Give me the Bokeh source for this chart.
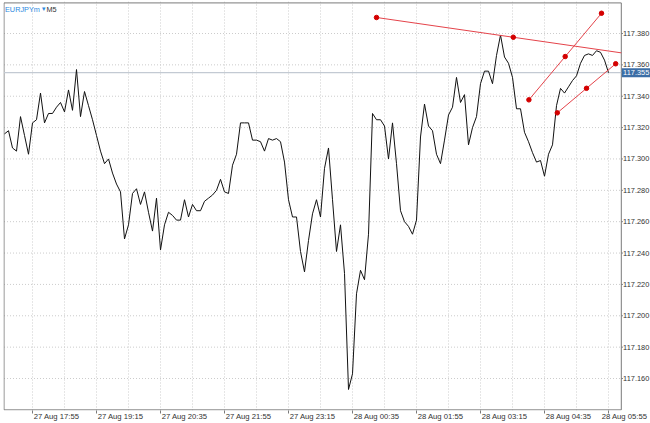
from bokeh.plotting import figure
from bokeh.models import Range1d, FixedTicker, Label
from bokeh.core.properties import value
from bokeh.embed import file_html
from bokeh.resources import INLINE

# ---- data -------------------------------------------------------------
# EURJPYm, M5 closes, one value per 5-minute bar from 27 Aug 17:20 to 28 Aug 05:55
close = [
    117.316, 117.318, 117.307, 117.305, 117.327, 117.315, 117.303, 117.323, 117.325, 117.342,
    117.323, 117.329, 117.329, 117.333, 117.336, 117.330, 117.344, 117.331, 117.357, 117.327,
    117.343, 117.334, 117.325, 117.315, 117.305, 117.297, 117.300, 117.291, 117.284, 117.279,
    117.249, 117.258, 117.278, 117.281, 117.271, 117.279, 117.266, 117.254, 117.275, 117.242,
    117.258, 117.266, 117.264, 117.261, 117.261, 117.274, 117.263, 117.271, 117.267, 117.267,
    117.273, 117.275, 117.277, 117.280, 117.287, 117.279, 117.278, 117.296, 117.303, 117.323,
    117.323, 117.323, 117.312, 117.312, 117.311, 117.305, 117.313, 117.312, 117.313, 117.311,
    117.298, 117.274, 117.263, 117.263, 117.241, 117.228, 117.248, 117.265, 117.274, 117.263,
    117.294, 117.307, 117.274, 117.241, 117.258, 117.227, 117.153, 117.163, 117.214, 117.229,
    117.223, 117.252, 117.329, 117.325, 117.325, 117.321, 117.300, 117.323, 117.297, 117.267,
    117.260, 117.257, 117.252, 117.261, 117.314, 117.335, 117.321, 117.318, 117.303, 117.297,
    117.312, 117.328, 117.333, 117.352, 117.336, 117.341, 117.309, 117.320, 117.327, 117.348,
    117.356, 117.356, 117.348, 117.366, 117.379, 117.365, 117.361, 117.352, 117.332, 117.332,
    117.317, 117.311, 117.304, 117.298, 117.299, 117.289, 117.303, 117.309, 117.334, 117.345,
    117.342, 117.346, 117.350, 117.353, 117.361, 117.366, 117.367, 117.366, 117.369, 117.368,
    117.363, 117.355,
]
bar = list(range(len(close)))

symbol = "EURJPYm"
timeframe = "M5"
last_price = 117.355

# bar index of each labelled time
tick_bars = [7, 23, 39, 55, 71, 87, 103, 119, 135, 151]
tick_labels = ["27 Aug 17:55", "27 Aug 19:15", "27 Aug 20:35", "27 Aug 21:55", "27 Aug 23:15",
               "28 Aug 00:35", "28 Aug 01:55", "28 Aug 03:15", "28 Aug 04:35", "28 Aug 05:55"]
grid_bars = [7, 15, 23, 31, 39, 47, 55, 63, 71, 79, 87, 95, 103, 111, 119, 127, 135, 143, 151]
price_ticks = [117.16, 117.18, 117.20, 117.22, 117.24, 117.26, 117.28, 117.30,
               117.32, 117.34, 117.36, 117.38]
price_labels = [f"{v:.3f}" for v in price_ticks]

# trend lines: (bar, price) anchors
trend1 = [(93.0, 117.3902), (161.4, 117.3650)]
trend2 = [(131.1, 117.3377), (149.25, 117.3929)]
trend3 = [(138.2, 117.3294), (152.8, 117.3607)]

# ---- layout constants ---------------------------------------------------
X0, X1 = -0.25, 161.5          # canvas x range (bars); 4 px per bar
XS = 154.2                     # right edge of the chart area / start of price scale
Y0, Y1 = 117.1396, 117.4004
B_LEFT, B_TOP, B_BOTTOM = -0.125, 117.3995, 117.1400

FONT = "Liberation Sans"
GRID = "#cccccc"
BORDER = "#7a7a7a"
TXT = "#333333"

p = figure(width=650, height=423, x_range=Range1d(X0, X1), y_range=Range1d(Y0, Y1),
           y_axis_location=None, output_backend="svg", toolbar_location=None,
           min_border_left=3, min_border_top=1, min_border_right=0, min_border_bottom=0,
           background_fill_color="white", border_fill_color="white")
p.outline_line_color = None
p.ygrid.visible = False

# time axis (labels start at their tick mark; the last one kept inside the page)
label_pos = [b + 6 for b in tick_bars]
label_pos[-1] = tick_bars[-1] + 4
xa = p.xaxis[0]
xa.ticker = FixedTicker(ticks=label_pos, minor_ticks=tick_bars)
xa.major_label_overrides = {pos: t for pos, t in zip(label_pos, tick_labels)}
xa.major_tick_out = 0
xa.major_tick_in = 0
xa.minor_tick_out = 3
xa.minor_tick_in = 0
xa.minor_tick_line_color = BORDER
xa.major_label_standoff = -2
xa.axis_line_color = None
xa.major_label_text_font = FONT
xa.major_label_text_font_size = "7.7px"
xa.major_label_text_color = TXT

# vertical grid
p.xgrid.ticker = FixedTicker(ticks=grid_bars)
p.xgrid.grid_line_color = GRID
p.xgrid.grid_line_dash = "1 2"

# horizontal grid (chart area only)
p.segment(x0=[B_LEFT] * len(price_ticks), x1=[XS] * len(price_ticks),
          y0=price_ticks, y1=price_ticks, line_color=GRID, line_dash="1 2", line_width=1)

# chart border
p.line([XS, B_LEFT, B_LEFT, XS, XS], [B_TOP, B_TOP, B_BOTTOM, B_BOTTOM, B_TOP],
       line_color=BORDER, line_width=1)

# price scale: tick marks and labels
p.segment(x0=[XS] * len(price_ticks), x1=[XS + 0.4] * len(price_ticks),
          y0=price_ticks, y1=price_ticks, line_color=BORDER, line_width=1)
p.text(x=[XS] * len(price_ticks), y=price_ticks, text=price_labels, x_offset=1.8,
       text_font=value(FONT), text_font_size="7.4px", text_color=TXT,
       text_baseline="middle", text_align="left")

# current price line and tag
p.line([B_LEFT, XS], [last_price, last_price], line_color="#c3cad3", line_width=1.3)
p.rect(x=[XS + 4.0], y=[last_price], width=31, height=9,
       width_units="screen", height_units="screen",
       fill_color="#3c6ea6", line_color=None)
p.text(x=[XS], y=[last_price], text=[f"{last_price:.3f}"], x_offset=1.8,
       text_font=value(FONT), text_font_size="7.4px", text_color="#ffffff",
       text_baseline="middle", text_align="left")

# price line
p.line(bar, close, line_color="#111111", line_width=1)

# trend lines with anchor / middle markers, cut at the price scale
RED_LINE = "#e4434a"
RED_DOT = "#d40000"
for tr in (trend1, trend2, trend3):
    (xa_, ya_), (xb_, yb_) = tr
    if xb_ > XS:
        yb_c = ya_ + (yb_ - ya_) * (XS - xa_) / (xb_ - xa_)
        xs, ys = [xa_, XS], [ya_, yb_c]
    else:
        xs, ys = [xa_, xb_], [ya_, yb_]
    p.line(xs, ys, line_color=RED_LINE, line_width=1)
    pts = [(xa_, ya_), ((xa_ + xb_) / 2, (ya_ + yb_) / 2), (xb_, yb_)]
    pts = [q for q in pts if q[0] <= XS]
    p.scatter([q[0] for q in pts], [q[1] for q in pts], size=4.5,
              fill_color=RED_DOT, line_color=RED_DOT)

# symbol caption
p.add_layout(Label(x=0, y=B_TOP, x_offset=0.5, y_offset=-2, text=symbol,
                   text_font=FONT, text_font_size="7.3px", text_color="#2e8ae0",
                   text_baseline="top", text_align="left"))
p.add_layout(Label(x=0, y=B_TOP, x_offset=37.5, y_offset=-2, text="\u25be",
                   text_font="DejaVu Sans", text_font_size="7px", text_color="#2e8ae0",
                   text_baseline="top", text_align="left"))
p.add_layout(Label(x=0, y=B_TOP, x_offset=42, y_offset=-2, text=timeframe,
                   text_font=FONT, text_font_size="7.3px", text_color=TXT,
                   text_baseline="top", text_align="left"))

open("out.html", "w").write(file_html(p, INLINE))
